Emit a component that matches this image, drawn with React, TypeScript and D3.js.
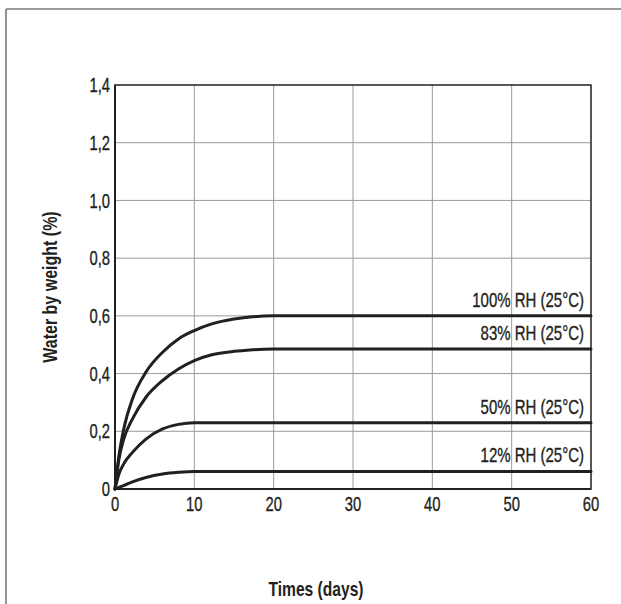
import React from "react";
import * as d3 from "d3";

const days = [0, 0.5, 1.1, 2.2, 3.9, 6, 8, 10, 12.2, 15, 17, 20, 60];
const rh100 = [0, 0.116, 0.208, 0.312, 0.405, 0.474, 0.52, 0.549, 0.572, 0.589, 0.596, 0.6, 0.6];
const rh83 = [0, 0.104, 0.173, 0.243, 0.318, 0.376, 0.416, 0.445, 0.465, 0.477, 0.482, 0.485, 0.485];
const daysLow = [0, 0.5, 1.1, 2.2, 3.9, 6, 8, 10, 60];
const rh50 = [0, 0.052, 0.087, 0.127, 0.173, 0.208, 0.224, 0.23, 0.23];
const rh12 = [0, 0.006, 0.012, 0.025, 0.04, 0.052, 0.058, 0.061, 0.061];

const seriesLabels = ["100% RH (25°C)", "83% RH (25°C)", "50% RH (25°C)", "12% RH (25°C)"];
const xTicks = [0, 10, 20, 30, 40, 50, 60];
const yTicks = [0, 0.2, 0.4, 0.6, 0.8, 1.0, 1.2, 1.4];
const yTickLabels = ["0", "0,2", "0,4", "0,6", "0,8", "1,0", "1,2", "1,4"];
const xTitle = "Times (days)";
const yTitle = "Water by weight (%)";

const FONT = "'Liberation Sans', Arial, sans-serif";
const ink = "#231f20";

type TProps = {
  x: number;
  y: number;
  anchor?: "start" | "middle" | "end";
  size?: number;
  sx?: number;
  bold?: boolean;
  rotate?: number;
  dy?: string;
  children: React.ReactNode;
};

function T({ x, y, anchor = "start", size = 20, sx = 0.75, bold = false, rotate = 0, dy, children }: TProps) {
  return (
    <text
      transform={`translate(${x},${y}) rotate(${rotate}) scale(${sx},1)`}
      textAnchor={anchor}
      fontFamily={FONT}
      fontSize={size}
      fontWeight={bold ? "bold" : "normal"}
      fill={ink}
      stroke={bold ? "none" : ink}
      strokeWidth={bold ? 0 : 0.35}
      dy={dy}
    >
      {children}
    </text>
  );
}

export default function App() {
  const W = 621, H = 604;
  const left = 115, right = 591, top = 85, bottom = 489;
  const x = d3.scaleLinear().domain([0, 60]).range([left, right]);
  const y = d3.scaleLinear().domain([0, 1.4]).range([bottom, top]);

  const series = [
    { xs: days, ys: rh100 },
    { xs: days, ys: rh83 },
    { xs: daysLow, ys: rh50 },
    { xs: daysLow, ys: rh12 },
  ];
  const line = d3
    .line<[number, number]>()
    .x((d) => x(d[0]))
    .y((d) => y(d[1]))
    .curve(d3.curveMonotoneX);

  return (
    <svg width={W} height={H} style={{ position: "absolute", left: 0, top: 0, background: "#fff" }}>
      {/* outer frame */}
      <line x1={6} y1={9} x2={W} y2={9} stroke="#7a7a7a" strokeWidth={1.6} />
      <line x1={6} y1={9} x2={6} y2={H} stroke="#7a7a7a" strokeWidth={1.6} />

      {/* grid */}
      {xTicks.slice(1, -1).map((t) => (
        <line key={"gx" + t} x1={x(t)} x2={x(t)} y1={top} y2={bottom} stroke="#9a9a9a" strokeWidth={1} />
      ))}
      {yTicks.slice(1, -1).map((t) => (
        <line key={"gy" + t} x1={left} x2={right} y1={y(t)} y2={y(t)} stroke="#9a9a9a" strokeWidth={1} />
      ))}

      {/* plot frame */}
      <rect x={left} y={top} width={right - left} height={bottom - top} fill="none" stroke={ink} strokeWidth={1.5} />
      <line x1={left} x2={left} y1={top} y2={bottom} stroke={ink} strokeWidth={2} />
      <line x1={left} x2={right} y1={bottom} y2={bottom} stroke={ink} strokeWidth={2} />

      {/* curves */}
      {series.map((s, i) => (
        <path
          key={"s" + i}
          d={line(s.xs.map((d, j) => [d, s.ys[j]] as [number, number])) || ""}
          fill="none"
          stroke={ink}
          strokeWidth={3}
          strokeLinecap="round"
        />
      ))}

      {/* series labels */}
      {series.map((s, i) => (
        <T key={"l" + i} x={584} y={y(s.ys[s.ys.length - 1]) - 9} anchor="end">
          {seriesLabels[i]}
        </T>
      ))}

      {/* y tick labels */}
      {yTicks.map((t, i) => (
        <T key={"yt" + t} x={110} y={y(t)} anchor="end" dy="0.36em" sx={0.74}>
          {yTickLabels[i]}
        </T>
      ))}

      {/* x tick labels */}
      {xTicks.map((t) => (
        <T key={"xt" + t} x={x(t)} y={bottom + 22} anchor="middle" sx={0.74}>
          {t}
        </T>
      ))}

      {/* axis titles */}
      <T x={316} y={596} anchor="middle" bold sx={0.78}>
        {xTitle}
      </T>
      <T x={57} y={(top + bottom) / 2} anchor="middle" bold sx={0.8} rotate={-90}>
        {yTitle}
      </T>
    </svg>
  );
}
